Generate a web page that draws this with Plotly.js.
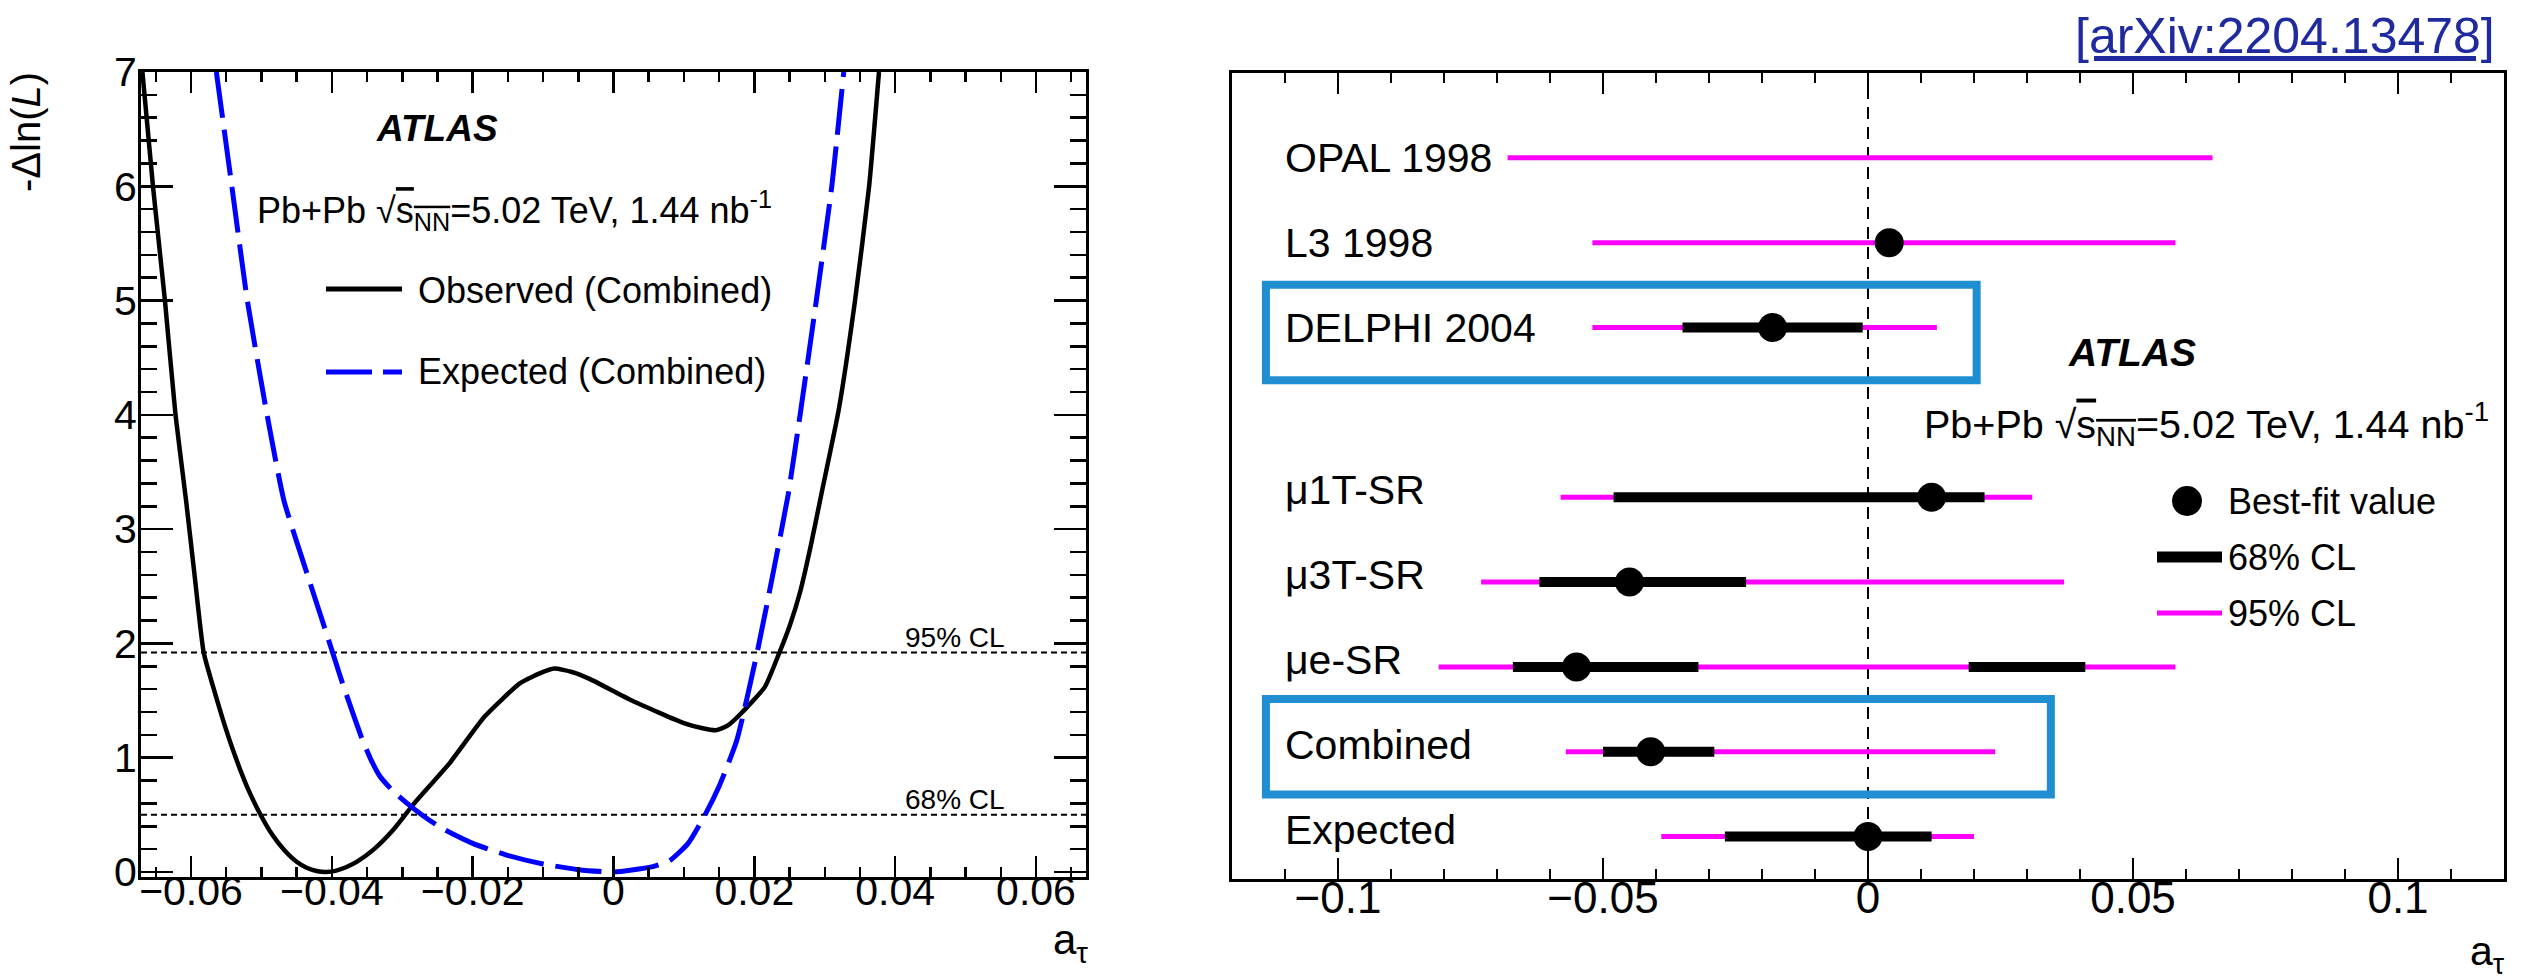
<!DOCTYPE html>
<html>
<head>
<meta charset="utf-8">
<script src="https://cdn.plot.ly/plotly-3.0.1.min.js"></script>
<style>
html,body{margin:0;padding:0;background:#ffffff;}
#chart{width:2522px;height:980px;}
</style>
</head>
<body>
<div id="chart"></div>
<script>
// ---------------- Left panel: -Delta ln(L) scan ----------------
const obsX = [-0.0669,-0.0654,-0.0637,-0.0622,-0.0607,-0.0595,-0.0582,-0.0570,-0.0555,-0.0540,-0.0520,-0.0502,-0.0485,-0.0468,-0.0450,-0.0435,-0.0420,-0.0408,-0.0395,-0.0380,-0.0363,-0.0340,-0.0313,-0.0283,-0.0233,-0.0183,-0.0133,-0.0104,-0.0084,-0.0059,-0.0034,0.0026,0.0101,0.0125,0.0145,0.0162,0.0180,0.0215,0.0235,0.0250,0.0265,0.0280,0.0295,0.0320,0.0343,0.0363,0.0377];
const obsY = [7.0,6.0,5.0,4.0,3.25,2.6,1.92,1.65,1.34,1.06,0.74,0.51,0.33,0.195,0.09,0.035,0.006,0.0,0.010,0.041,0.095,0.20,0.367,0.60,0.95,1.36,1.65,1.74,1.78,1.75,1.69,1.50,1.30,1.26,1.24,1.28,1.38,1.62,1.91,2.15,2.45,2.85,3.3,4.05,5.0,6.0,7.0];
const expX = [-0.0564,-0.0542,-0.0520,-0.0492,-0.0468,-0.0432,-0.0402,-0.0388,-0.0373,-0.0358,-0.0345,-0.0332,-0.0315,-0.0293,-0.0270,-0.0243,-0.0200,-0.0153,-0.0100,-0.0050,0.0,0.0056,0.0080,0.0106,0.0130,0.0150,0.0175,0.0205,0.0230,0.0248,0.0265,0.0288,0.0310,0.0327];
const expY = [7.0,6.0,5.0,4.0,3.25,2.55,1.98,1.71,1.44,1.18,0.99,0.84,0.72,0.60,0.49,0.38,0.25,0.15,0.07,0.02,0.0,0.047,0.10,0.25,0.50,0.75,1.15,1.95,2.72,3.3,4.0,5.0,6.0,7.0];
const clLevels = [0.5, 1.92];
const clLabels = ["68% CL", "95% CL"];
const leftTicks = [-0.06,-0.04,-0.02,0,0.02,0.04,0.06];

// ---------------- Right panel: a_tau limits ----------------
const measLabels = ["OPAL 1998","L3 1998","DELPHI 2004","μ1T-SR","μ3T-SR","μe-SR","Combined","Expected"];
const measRows   = [8,7,6,4,3,2,1,0];
const bestFit    = [null,0.004,-0.018,0.012,-0.045,-0.055,-0.041,0.0];
const lo95       = [-0.068,-0.052,-0.052,-0.058,-0.073,-0.081,-0.057,-0.039];
const hi95       = [0.065,0.058,0.013,0.031,0.037,0.058,0.024,0.020];
const lo68       = [null,null,-0.035,-0.048,-0.062,-0.067,-0.050,-0.027];
const hi68       = [null,null,-0.001,0.022,-0.023,-0.032,-0.029,0.012];
const lo68b      = [null,null,null,null,null,0.019,null,null];
const hi68b      = [null,null,null,null,null,0.041,null,null];
const isAtlasRow = [false,false,false,true,true,true,true,true];

// ---------------- helpers ----------------
const W = 2522, H = 980;
const PX = X => X / W;
const PY = Y => 1 - Y / H;
const FONT = "Liberation Sans, Arial, Helvetica, sans-serif";
const MAGENTA = "#ff00ff";
const BOXBLUE = "#1f8fd1";

function segs(lo, hi, rows) {
  const xs = [], ys = [];
  for (let i = 0; i < lo.length; i++) {
    if (lo[i] === null || hi[i] === null) continue;
    xs.push(lo[i], hi[i], null);
    ys.push(rows[i], rows[i], null);
  }
  return {xs, ys};
}
const s95 = segs(lo95, hi95, measRows);
const s68a = segs(lo68, hi68, measRows);
const s68b = segs(lo68b, hi68b, measRows);

const traces = [
  {x: obsX, y: obsY, xaxis: 'x', yaxis: 'y', mode: 'lines', type: 'scatter',
   line: {color: '#000000', width: 4.5, shape: 'spline', smoothing: 0.5}, hoverinfo: 'skip'},
  {x: expX, y: expY, xaxis: 'x', yaxis: 'y', mode: 'lines', type: 'scatter',
   line: {color: '#0000ff', width: 5, dash: '46px,12px', shape: 'spline', smoothing: 0.5}, hoverinfo: 'skip'},
  {x: s95.xs, y: s95.ys, xaxis: 'x2', yaxis: 'y2', mode: 'lines', type: 'scatter',
   line: {color: MAGENTA, width: 5}, hoverinfo: 'skip'},
  {x: s68a.xs.concat(s68b.xs), y: s68a.ys.concat(s68b.ys), xaxis: 'x2', yaxis: 'y2', mode: 'lines', type: 'scatter',
   line: {color: '#000000', width: 10}, hoverinfo: 'skip'},
  {x: bestFit, y: measRows, xaxis: 'x2', yaxis: 'y2', mode: 'markers', type: 'scatter',
   marker: {color: '#000000', size: 29, line: {width: 0}}, hoverinfo: 'skip'}
];

const shapes = [];
clLevels.forEach(v => shapes.push({type: 'line', xref: 'x domain', yref: 'y', x0: 0, x1: 1, y0: v, y1: v,
  line: {color: '#000000', width: 2, dash: '6px,4px'}, layer: 'below'}));
shapes.push({type: 'line', xref: 'x2', yref: 'y2 domain', x0: 0, x1: 0, y0: 0, y1: 1,
  line: {color: '#000000', width: 2, dash: '12px,8px'}, layer: 'below'});
// highlight boxes (DELPHI 2004, Combined)
shapes.push({type: 'rect', xref: 'x2', yref: 'y2', x0: -0.1136, x1: 0.0205, y0: 5.378, y1: 6.505,
  line: {color: BOXBLUE, width: 8}, fillcolor: 'rgba(0,0,0,0)'});
shapes.push({type: 'rect', xref: 'x2', yref: 'y2', x0: -0.1136, x1: 0.0345, y0: 0.496, y1: 1.623,
  line: {color: BOXBLUE, width: 8}, fillcolor: 'rgba(0,0,0,0)'});
// left legend samples
shapes.push({type: 'line', xref: 'paper', yref: 'paper', x0: PX(326), x1: PX(402), y0: PY(289), y1: PY(289),
  line: {color: '#000000', width: 5}});
shapes.push({type: 'line', xref: 'paper', yref: 'paper', x0: PX(326), x1: PX(402), y0: PY(372), y1: PY(372),
  line: {color: '#0000ff', width: 5, dash: '46px,11px'}});
// right legend samples
shapes.push({type: 'circle', xref: 'paper', yref: 'paper', x0: PX(2172), x1: PX(2202), y0: PY(516), y1: PY(486),
  fillcolor: '#000000', line: {width: 0}});
shapes.push({type: 'line', xref: 'paper', yref: 'paper', x0: PX(2157), x1: PX(2222), y0: PY(557), y1: PY(557),
  line: {color: '#000000', width: 11}});
shapes.push({type: 'line', xref: 'paper', yref: 'paper', x0: PX(2157), x1: PX(2222), y0: PY(613), y1: PY(613),
  line: {color: MAGENTA, width: 5}});

function ann(o) {
  return Object.assign({showarrow: false, xref: 'paper', yref: 'paper', xanchor: 'left', yanchor: 'middle',
    font: {family: FONT, size: 36, color: '#000000'}}, o);
}
const energy = 'Pb+Pb √<span style="text-decoration:overline">s<sub>NN</sub></span>=5.02 TeV, 1.44 nb<sup>-1</sup>';

const annotations = [
  ann({x: PX(374), y: PY(128), text: '<b><i>ATLAS</i></b>', font: {family: FONT, size: 37, color: '#000'}}),
  ann({x: PX(255), y: PY(210), text: energy, font: {family: FONT, size: 36, color: '#000'}}),
  ann({x: PX(416), y: PY(290), text: 'Observed (Combined)'}),
  ann({x: PX(416), y: PY(371), text: 'Expected (Combined)'}),
  ann({x: PX(26), y: PY(70), xanchor: 'center', yanchor: 'top', textangle: -90,
       text: '-Δln(<i>L</i>)', font: {family: FONT, size: 40, color: '#000'}}),
  ann({x: PX(1090), y: PY(914), xanchor: 'right', yanchor: 'top', text: 'a<sub>τ</sub>',
       font: {family: FONT, size: 42, color: '#000'}}),
  ann({x: PX(2507), y: PY(926), xanchor: 'right', yanchor: 'top', text: 'a<sub>τ</sub>',
       font: {family: FONT, size: 41, color: '#000'}}),
  ann({x: PX(2066), y: PY(352), text: '<b><i>ATLAS</i></b>', font: {family: FONT, size: 39, color: '#000'}}),
  ann({x: PX(1922), y: PY(424), text: energy, font: {family: FONT, size: 39.5, color: '#000'}}),
  ann({x: PX(2226), y: PY(501), text: 'Best-fit value'}),
  ann({x: PX(2226), y: PY(557), text: '68% CL'}),
  ann({x: PX(2226), y: PY(613), text: '95% CL'}),
  ann({x: PX(2497), y: PY(36), xanchor: 'right', text: '<span style="text-decoration:underline">[arXiv:2204.13478]</span>',
       font: {family: FONT, size: 50, color: '#1f2a9e'}})
];
clLevels.forEach((v, i) => annotations.push(ann({xref: 'x', yref: 'y', x: 0.0411, y: v, yanchor: 'bottom', yshift: -2,
  text: clLabels[i], font: {family: FONT, size: 28, color: '#000'}})));
measLabels.forEach((t, i) => annotations.push(ann({xref: 'x2', yref: 'y2', x: -0.1103, y: measRows[i],
  yshift: isAtlasRow[i] ? 7 : 0, text: t, font: {family: FONT, size: 41, color: '#000'}})));

const axBase = {showgrid: false, zeroline: false, showline: true, linecolor: '#000000', linewidth: 3,
  mirror: 'ticks', ticks: 'inside', tickcolor: '#000000', tickwidth: 2.5,
  tickfont: {family: FONT, size: 41, color: '#000000'}};

const layout = {
  width: W, height: H,
  margin: {l: 0, r: 0, t: 0, b: 0, pad: 0},
  paper_bgcolor: '#ffffff', plot_bgcolor: '#ffffff',
  showlegend: false,
  font: {family: FONT, color: '#000000'},
  xaxis: Object.assign({}, axBase, {domain: [PX(141), PX(1086)], range: [-0.0671, 0.0671], anchor: 'y',
    tickmode: 'array', tickvals: leftTicks, ticklen: 21, ticklabelstandoff: -24,
    minor: {dtick: 0.005, tick0: 0, ticklen: 10, tickwidth: 2.5, ticks: 'inside', tickcolor: '#000'}}),
  yaxis: Object.assign({}, axBase, {domain: [PY(877), PY(72)], range: [-0.044, 7], anchor: 'x',
    dtick: 1, tick0: 0, ticklen: 32, ticklabelstandoff: -7,
    minor: {dtick: 0.2, tick0: 0, ticklen: 16, tickwidth: 2.5, ticks: 'inside', tickcolor: '#000'}}),
  xaxis2: Object.assign({}, axBase, {domain: [PX(1232), PX(2504)], range: [-0.12, 0.12], anchor: 'y2',
    dtick: 0.05, tick0: 0, ticklen: 21, ticklabelstandoff: -22, tickfont: {family: FONT, size: 44, color: '#000'},
    minor: {dtick: 0.01, tick0: 0, ticklen: 10, tickwidth: 2.5, ticks: 'inside', tickcolor: '#000'}}),
  yaxis2: {domain: [PY(879), PY(73)], range: [-0.5, 9], anchor: 'x2', showgrid: false, zeroline: false,
    showline: true, mirror: true, linecolor: '#000000', linewidth: 3, ticks: '', showticklabels: false},
  shapes: shapes,
  annotations: annotations
};

Plotly.newPlot('chart', traces, layout, {staticPlot: true, displayModeBar: false});
</script>
</body>
</html>
